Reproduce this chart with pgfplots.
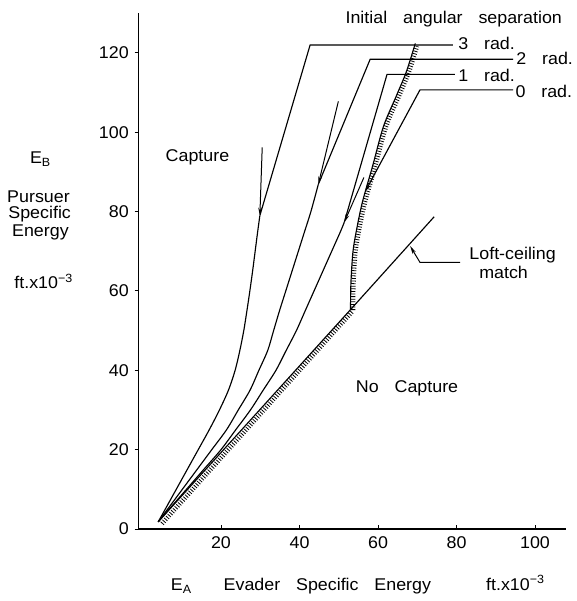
\documentclass[border=0pt]{standalone}
\usepackage{fontspec}
\setmainfont{Liberation Sans}[FakeStretch=1.05, WordSpace=3.2]
\usepackage{pgfplots}
\pgfplotsset{compat=1.18}
\usetikzlibrary{arrows.meta}

\tikzset{
  curve/.style={black, line width=1.15pt},
  arr/.style={black, line width=1pt, -{Stealth[length=8pt,width=3.8pt]}},
  hatch/.style={black, line width=4.5pt, dash pattern=on 0.8pt off 1.8pt},
}

\begin{document}
\fontsize{17}{20}\selectfont
\begin{tikzpicture}
\begin{axis}[
    x=3.925pt, y=3.967pt,
    xmin=-1, xmax=108, ymin=0, ymax=130,
    axis x line=bottom, axis y line=left,
    axis line style={-, line width=1.2pt},
    xtick={20,40,...,100}, ytick={0,20,...,120},
    tick align=outside,
    major tick length=4pt,
    tick style={black, line width=1pt},
    x tick style={yshift=4pt},
    xticklabel style={yshift=2pt},
    /pgf/number format/assume math mode=true,
    tick label style={font=\fontsize{17}{20}\selectfont},
    clip=false,
]
\coordinate (O) at (axis cs:0,0);

% boundary of the capture region (hatched on the no-capture side)
\addplot[hatch, xshift=1.9pt, yshift=-1.7pt] coordinates {(4.5,1.8) (53,55.3)};
\addplot[hatch, smooth, xshift=2.5pt, yshift=-0.4pt] coordinates {
    (53,55.3) (53.1,62) (53.6,69.7) (54.4,74.7) (56,82.3)
    (58.6,91.4) (61.4,101.5) (64.6,109) (67.2,115.2) (69.3,121.8)};
\addplot[curve, sharp plot] coordinates {(4,1.8) (53,55.3)};
\addplot[curve, smooth] coordinates {
    (53,55.3) (53.1,62) (53.6,69.7) (54.4,74.7) (56,82.3)
    (58.6,91.4) (61.4,101.5) (64.6,109) (67.2,115.2) (69.5,122.4)};
% loft-ceiling match line
\addplot[curve, sharp plot] coordinates {(53,55.3) (74.3,78.7)};

% 3 rad
\addplot[curve, smooth] coordinates {
    (4,1.8) (5.8,5) (8.6,10) (11.4,15) (14.2,20) (17,25) (19.6,30) (21.9,35)
    (23.6,40) (24.8,45) (25.8,50) (26.6,55) (27.35,60) (28.05,65) (28.7,70)
    (29.35,75) (29.9,79)};
\addplot[curve, sharp plot] coordinates {(29.9,79) (42.7,122) (79.1,122)};
\addplot[arr] coordinates {(30.5,96.2) (29.9,79)};

% 2 rad
\addplot[curve, smooth] coordinates {
    (4,1.8) (6.4,5) (10.15,10) (13.9,15) (17.65,20) (21.4,25) (24.4,30)
    (27.4,35) (29.65,40) (31.9,45) (33.4,50) (34.9,55) (36.5,60) (38.1,65)
    (39.7,70) (41.3,75) (42.9,80) (44.8,86.9)};
\addplot[curve, sharp plot] coordinates {(44.8,86.9) (58,118.4) (94.4,118.4)};
\addplot[arr] coordinates {(49.9,107.8) (44.8,86.9)};

% 1 rad
\addplot[curve, smooth] coordinates {
    (4,1.8) (6.8,5) (11.2,10) (15.6,15) (20,20) (23.75,25) (27.5,30)
    (30.75,35) (34,40) (36.6,45) (39.2,50) (41.45,55) (43.7,60) (45.95,65)
    (48.2,70) (50.45,75) (51.4,77.3)};
\addplot[curve, sharp plot] coordinates {(51.4,77.3) (62.3,114.6) (79.6,114.6)};
\addplot[arr] coordinates {(56.4,88.6) (51.4,77.3)};

% 0 rad
\addplot[arr, line width=1.15pt] coordinates {(94.4,110.7) (70.7,110.7) (56.7,85)};

% loft-ceiling pointer
\addplot[arr] coordinates {(80.9,67.2) (70.7,67.2) (68.2,71.3)};

% labels
\node at (axis cs:79.3,128.5) {Initial angular separation};
\node[anchor=west, inner sep=0pt] at (axis cs:80.4,122.4) {3 rad.};
\node[anchor=west, inner sep=0pt] at (axis cs:95.2,118.6) {2 rad.};
\node[anchor=west, inner sep=0pt] at (axis cs:80.4,114.4) {1 rad.};
\node[anchor=west, inner sep=0pt] at (axis cs:95.0,110.4) {0 rad.};
\node at (axis cs:94.3,69) {Loft-ceiling};
\node at (axis cs:92,64.6) {match};
\node at (axis cs:14,93.7) {Capture};
\node at (axis cs:67.4,35.4) {No Capture};

\node at (axis cs:-26,93.2) {E\textsubscript{B}};
\node at (axis cs:-26.5,83.8) {Pursuer};
\node at (axis cs:-26.2,79.3) {Specific};
\node at (axis cs:-26,74.7) {Energy};
\node at (axis cs:-25.2,62.4) {ft.x10\textsuperscript{−3}};

\node[anchor=base] at (axis cs:9.9,-15.6) {E\textsubscript{A}};
\node[anchor=base] at (axis cs:47.1,-15.4) {Evader Specific Energy};
\node[anchor=base] at (axis cs:95,-15.4) {ft.x10\textsuperscript{−3}};
\end{axis}
\pgfresetboundingbox
\path ([shift={(-142.5pt,-72pt)}]O) rectangle ([shift={(433.5pt,529pt)}]O);
\end{tikzpicture}
\end{document}
